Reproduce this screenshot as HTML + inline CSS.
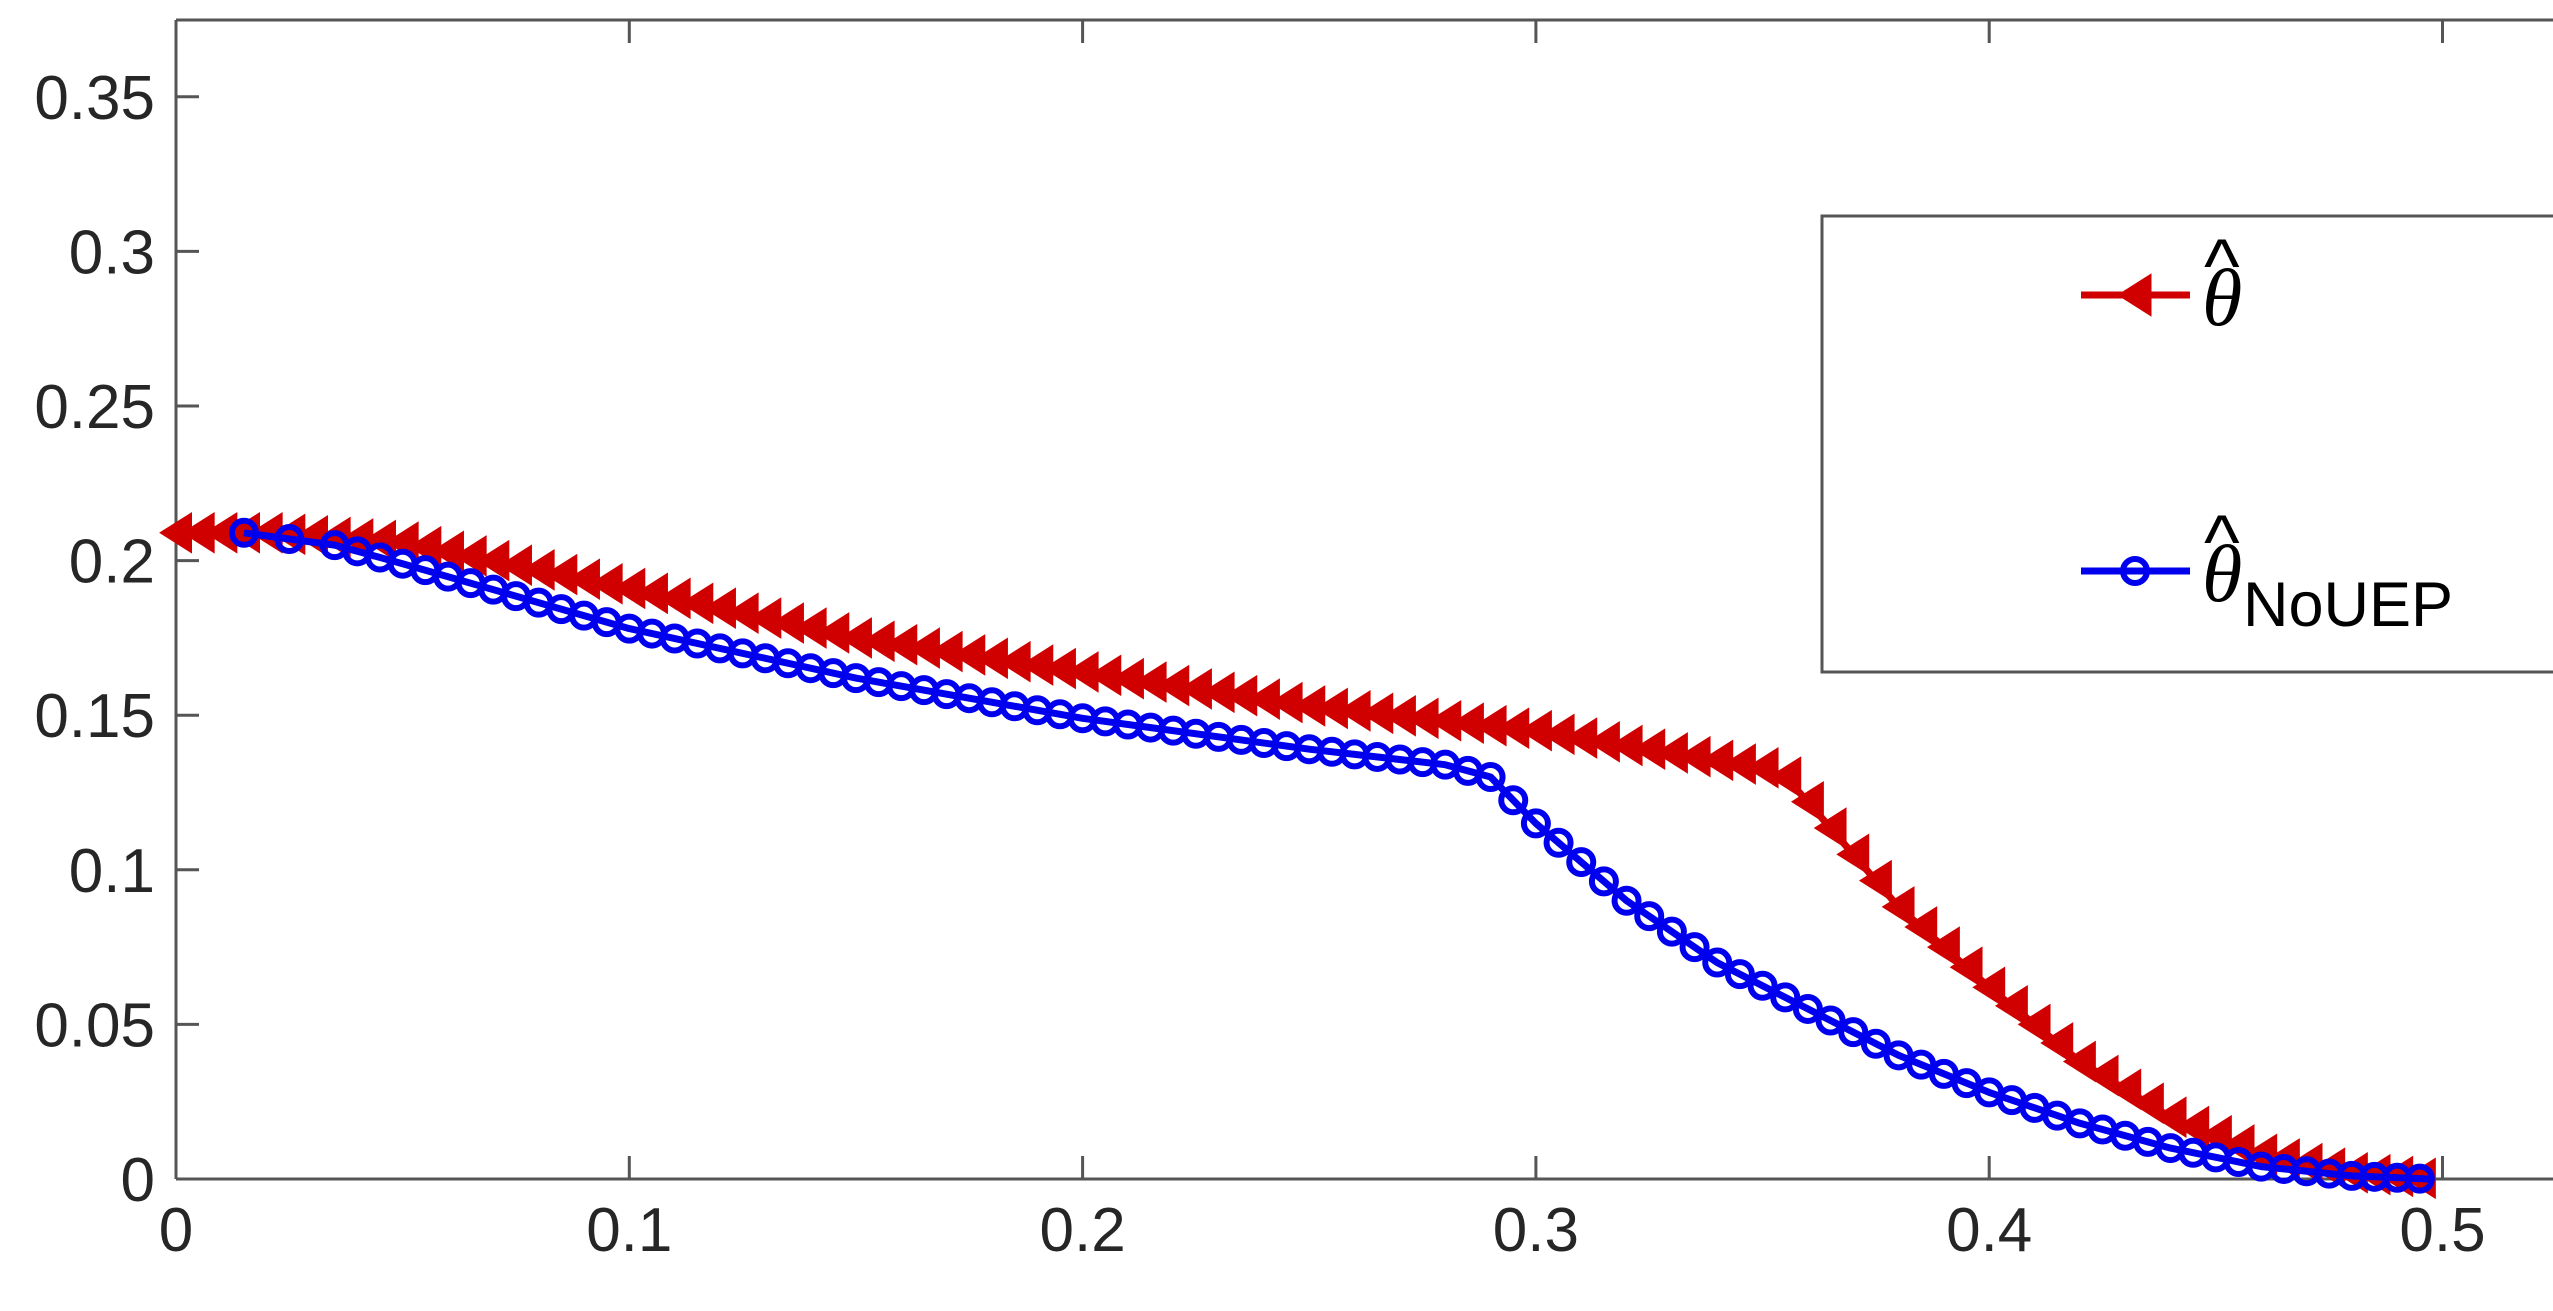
<!DOCTYPE html>
<html><head><meta charset="utf-8"><style>
html,body{margin:0;padding:0;background:#fff;}
svg text{font-family:"Liberation Sans",sans-serif;fill:#262626;}
</style></head><body>
<svg id="s" width="2553" height="1306" viewBox="0 0 2553 1306" xmlns="http://www.w3.org/2000/svg">
<rect width="2553" height="1306" fill="#fff"/>
<g stroke="#555" stroke-width="3" fill="none">
<line x1="176" y1="20" x2="2553" y2="20"/>
<line x1="176" y1="1179" x2="2553" y2="1179"/>
<line x1="176" y1="20" x2="176" y2="1179"/>
</g>
<g id="ticks" stroke="#555" stroke-width="3"></g>
<g id="labels" font-size="62"></g>
<g id="series"></g>
<rect x="1822" y="216" width="740" height="456" fill="#fff" stroke="#555" stroke-width="3"/>
<line x1="2081" y1="295" x2="2190" y2="295" stroke="#d00000" stroke-width="7"/>
<polygon points="2120,295 2150,276 2150,314" fill="#d00000" stroke="#d00000" stroke-width="3"/>
<line x1="2081" y1="571" x2="2190" y2="571" stroke="#0000ee" stroke-width="7"/>
<circle cx="2135" cy="571" r="12" fill="none" stroke="#0000ee" stroke-width="6"/>
<text x="2202" y="325" font-size="82" font-style="italic" style="font-family:'Liberation Serif',serif;fill:#000">θ</text>
<text x="2204" y="292" font-size="76" style="fill:#000">^</text>
<text x="2202" y="601" font-size="82" font-style="italic" style="font-family:'Liberation Serif',serif;fill:#000">θ</text>
<text x="2204" y="568" font-size="76" style="fill:#000">^</text>
<text x="2243" y="626" font-size="63" style="fill:#000">NoUEP</text>
</svg>
<script>
const X=v=>176+v*4533, Y=v=>1179-v*3092;
const ns="http://www.w3.org/2000/svg";
function el(t,a,p){const e=document.createElementNS(ns,t);for(const k in a)e.setAttribute(k,a[k]);(p||document.getElementById('series')).appendChild(e);return e;}
const tk=document.getElementById('ticks'),lb=document.getElementById('labels');
for(let i=0;i<=5;i++){const x=X(i*0.1);el('line',{x1:x,y1:1179,x2:x,y2:1156},tk);el('line',{x1:x,y1:20,x2:x,y2:43},tk);
 const t=el('text',{x:x,y:1251,'text-anchor':'middle'},lb);t.textContent=i==0?'0':(i/10).toString();}
for(let i=0;i<=7;i++){const v=i*0.05,y=Y(v);el('line',{x1:176,y1:y,x2:199,y2:y},tk);
 const t=el('text',{x:155,y:y+22,'text-anchor':'end'},lb);t.textContent=i==0?'0':(+v.toFixed(2)).toString();}
function interp(pts,x){for(let i=0;i<pts.length-1;i++){if(x<=pts[i+1][0]){const [a,b]=pts[i],[c,d]=pts[i+1];return b+(d-b)*(x-a)/(c-a);}}return pts[pts.length-1][1];}
const red=[[0,0.209],[0.02,0.209],[0.05,0.206],[0.1,0.191],[0.15,0.175],[0.2,0.164],[0.25,0.153],[0.3,0.145],[0.35,0.133],[0.355,0.130],[0.36,0.122],[0.37,0.105],[0.38,0.088],[0.4,0.062],[0.42,0.038],[0.44,0.02],[0.46,0.008],[0.48,0.002],[0.497,0.0]];
const blue=[[0.015,0.209],[0.025,0.207],[0.035,0.205],[0.05,0.199],[0.1,0.178],[0.15,0.162],[0.2,0.149],[0.25,0.139],[0.28,0.134],[0.29,0.13],[0.3,0.115],[0.32,0.09],[0.34,0.07],[0.36,0.055],[0.38,0.04],[0.4,0.028],[0.42,0.018],[0.44,0.01],[0.46,0.004],[0.48,0.001],[0.497,0.0]];
function path(pts){return pts.map((p,i)=>(i?'L':'M')+X(p[0]).toFixed(1)+','+Y(p[1]).toFixed(1)).join('');}
el('path',{d:path(red),fill:'none',stroke:'#d00000','stroke-width':7,'stroke-linejoin':'round'});
for(let x=0;x<=0.4971;x+=0.005){const cx=X(x),cy=Y(interp(red,x));
 el('polygon',{points:`${cx-15},${cy} ${cx+15},${cy-19} ${cx+15},${cy+19}`,fill:'#d00000',stroke:'#d00000','stroke-width':2});}
el('path',{d:path(blue),fill:'none',stroke:'#0000ee','stroke-width':7,'stroke-linejoin':'round'});
const bx=[0.015,0.025,0.035];for(let x=0.04;x<=0.4971;x+=0.005)bx.push(x);
for(const x of bx){el('circle',{cx:X(x),cy:Y(interp(blue,x)),r:12,fill:'none',stroke:'#0000ee','stroke-width':6});}
</script>
</body></html>
